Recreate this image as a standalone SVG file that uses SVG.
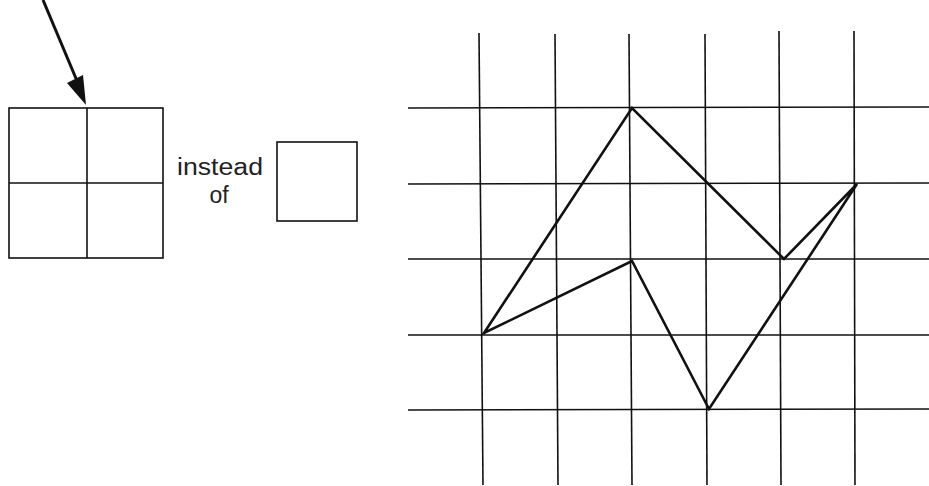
<svg xmlns="http://www.w3.org/2000/svg" width="929" height="486" viewBox="0 0 929 486">
<defs>
<style>
.g{stroke:#111;stroke-width:1.6;fill:none}
.p{stroke:#111;stroke-width:2.6;fill:none;stroke-linejoin:miter}
.t{font-family:"Liberation Sans",Arial,sans-serif;font-size:23px;fill:#222;text-anchor:middle}
</style>
</defs>
<rect width="929" height="486" fill="#fff"/>
<g id="bigsquare">
<rect class="g" x="9" y="108" width="154" height="150"/>
<line class="g" x1="87" y1="108" x2="87" y2="258"/>
<line class="g" x1="9" y1="183" x2="163" y2="183"/>
</g>
<g id="connectors">
<line x1="43" y1="0" x2="80" y2="88" stroke="#111" stroke-width="3"/>
<path d="M86,105 L67,83 L83,75 Z" fill="#111"/>
</g>
<g id="label">
<text class="t" x="220" y="175" textLength="86" lengthAdjust="spacingAndGlyphs">instead</text>
<text class="t" x="219" y="203">of</text>
</g>
<g id="smallsquare">
<rect class="g" x="277" y="142" width="80" height="79"/>
</g>
<g id="grid">
<line class="g" x1="479" y1="33" x2="483" y2="485"/>
<line class="g" x1="555" y1="34" x2="558" y2="485"/>
<line class="g" x1="629" y1="34" x2="632" y2="485"/>
<line class="g" x1="705" y1="34" x2="707" y2="485"/>
<line class="g" x1="779" y1="31" x2="781" y2="485"/>
<line class="g" x1="854" y1="31" x2="855" y2="485"/>
<line class="g" x1="408" y1="108" x2="929" y2="107"/>
<line class="g" x1="408" y1="184" x2="929" y2="183"/>
<line class="g" x1="408" y1="259" x2="929" y2="259"/>
<line class="g" x1="408" y1="335" x2="929" y2="335"/>
<line class="g" x1="408" y1="410" x2="929" y2="409"/>
</g>
<g id="shape">
<polygon class="p" points="484,333 632,108 784,259 857,184 709,409 632,261"/>
</g>
</svg>
